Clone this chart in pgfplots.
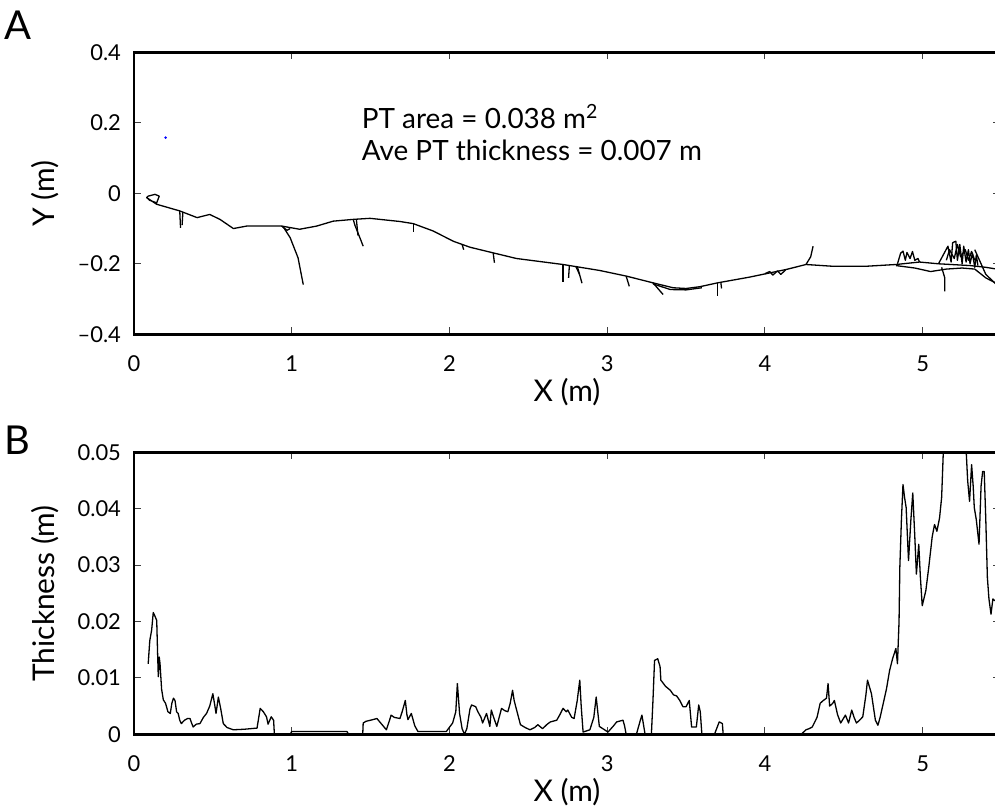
\documentclass[border=0pt]{standalone}
\usepackage{fontspec}
\setmainfont{Lato}
\usepackage{pgfplots}
\pgfplotsset{compat=1.18}

\pgfplotsset{
  panel/.style={
    scale only axis, width=433bp, height=141bp,
    xmin=0, xmax=5.49,
    xtick={0,1,2,3,4,5},
    axis line style={line width=1.3bp},
    major tick length=3.5bp,
    tick style={line width=0.5bp, black!75},
    tick label style={font=\fontsize{11}{12}\selectfont},
    xticklabel style={yshift=-7bp},
    yticklabel style={xshift=-3bp},
    scaled y ticks=false,
    /pgf/number format/assume math mode=true,
    xlabel={X (m)},
    every axis x label/.style={at={(axis description cs:0.5,0)}, anchor=center,
      yshift=-29bp, font=\fontsize{15}{17}\selectfont},
    every axis y label/.style={at={(axis description cs:0,0.5)}, xshift=-44.5bp,
      rotate=90, anchor=center, font=\fontsize{15}{17}\selectfont},
  },
  trace/.style={black, line width=0.65bp, line join=round, forget plot},
}

\begin{document}
\begin{tikzpicture}
\path[use as bounding box] (-67bp,167.15bp) rectangle (430.5bp,-237.35bp);

% A: surveyed surface profile
\begin{axis}[panel, name=top, at={(0,0)}, anchor=south west,
  ymin=-0.4, ymax=0.4, ytick={-0.4,-0.2,0,0.2,0.4},
  yticklabels={--0.4,--0.2,0,0.2,0.4},
  ylabel={Y (m)}]
\addplot[trace] coordinates {
 (0.08,-0.012)(0.09,-0.008)(0.133,-0.003)(0.16,-0.008)(0.144,-0.027)(0.10,-0.02)(0.08,-0.012)
 (0.143,-0.031)(0.29,-0.05)(0.40,-0.069)(0.48,-0.06)(0.545,-0.074)(0.63,-0.10)(0.714,-0.093)
 (0.936,-0.093)(1.05,-0.102)(1.158,-0.093)(1.263,-0.079)(1.39,-0.074)(1.496,-0.071)(1.686,-0.080)
 (1.77,-0.086)(1.897,-0.107)(2.024,-0.136)(2.13,-0.153)(2.277,-0.169)(2.425,-0.185)(2.72,-0.202)
 (2.953,-0.219)(3.122,-0.235)(3.29,-0.254)(3.418,-0.268)(3.50,-0.270)(3.587,-0.265)(3.70,-0.254)
 (3.90,-0.238)(4.136,-0.216)(4.26,-0.202)(4.43,-0.207)(4.64,-0.207)(4.83,-0.202)(4.98,-0.195)
 (5.10,-0.200)(5.30,-0.205)(5.40,-0.210)(5.47,-0.215)};
\addplot[trace] coordinates {(3.29,-0.257)(3.40,-0.273)(3.50,-0.274)(3.60,-0.268)};
\addplot[trace] coordinates {(4.83,-0.205)(4.95,-0.212)(5.05,-0.222)(5.15,-0.215)(5.25,-0.212)(5.33,-0.215)(5.40,-0.240)(5.47,-0.256)};
% spikes
\addplot[trace] coordinates {(0.29,-0.05)(0.295,-0.098)};
\addplot[trace] coordinates {(0.31,-0.053)(0.305,-0.09)};
\addplot[trace] coordinates {(0.936,-0.093)(0.97,-0.105)(0.99,-0.10)};
\addplot[trace] coordinates {(0.946,-0.095)(0.99,-0.126)(1.04,-0.183)(1.073,-0.259)};
\addplot[trace] coordinates {(1.39,-0.074)(1.40,-0.09)(1.453,-0.15)};
\addplot[trace] coordinates {(1.41,-0.075)(1.42,-0.12)};
\addplot[trace] coordinates {(1.77,-0.086)(1.77,-0.11)};
\addplot[trace] coordinates {(2.08,-0.145)(2.09,-0.16)};
\addplot[trace] coordinates {(2.277,-0.169)(2.285,-0.197)};
\addplot[trace] coordinates {(2.72,-0.202)(2.72,-0.251)};
\addplot[trace] coordinates {(2.76,-0.205)(2.755,-0.24)};
\addplot[trace] coordinates {(2.81,-0.207)(2.84,-0.255)};
\addplot[trace] coordinates {(2.80,-0.207)(2.825,-0.23)};
\addplot[trace] coordinates {(3.12,-0.235)(3.14,-0.264)};
\addplot[trace] coordinates {(3.29,-0.254)(3.354,-0.287)};
\addplot[trace] coordinates {(3.70,-0.254)(3.70,-0.292)};
\addplot[trace] coordinates {(3.72,-0.252)(3.725,-0.27)};
\addplot[trace] coordinates {(4.00,-0.228)(4.03,-0.222)(4.05,-0.232)(4.08,-0.220)(4.10,-0.230)(4.13,-0.218)};
\addplot[trace] coordinates {(4.26,-0.202)(4.29,-0.18)(4.305,-0.15)};
\addplot[trace] coordinates {(5.12,-0.21)(5.14,-0.24)(5.14,-0.278)};
\addplot[trace] coordinates {(5.33,-0.16)(5.36,-0.19)(5.40,-0.23)(5.47,-0.26)};
% rough patches
\addplot[trace] coordinates {(4.84,-0.200)(4.86,-0.17)(4.875,-0.164)(4.89,-0.19)(4.90,-0.168)(4.92,-0.185)(4.935,-0.165)(4.95,-0.19)(4.97,-0.185)(4.98,-0.195)};
\addplot[trace] coordinates {(5.10,-0.200)(5.13,-0.175)(5.16,-0.150)(5.18,-0.195)(5.19,-0.140)(5.21,-0.136)(5.22,-0.19)(5.235,-0.145)(5.25,-0.20)(5.26,-0.15)(5.275,-0.195)(5.29,-0.16)(5.30,-0.20)(5.315,-0.17)(5.33,-0.21)(5.34,-0.175)(5.35,-0.205)};
\addplot[trace] coordinates {(5.15,-0.19)(5.17,-0.16)(5.20,-0.185)(5.22,-0.145)(5.24,-0.18)(5.27,-0.16)(5.29,-0.19)(5.31,-0.165)(5.33,-0.19)};
\addplot[only marks, mark=*, mark size=0.4bp, blue, forget plot] coordinates {(0.2,0.158)};
\node[anchor=base west, align=left, font=\fontsize{14}{16}\selectfont] at (axis cs:1.40,0.092)
  {PT area = 0.038 m\textsuperscript{2}\\Ave PT thickness = 0.007 m};
\end{axis}

% B: thickness along the profile
\begin{axis}[panel, name=bot, at={(0,-200bp)}, anchor=south west,
  ymin=0, ymax=0.05, ytick={0,0.01,0.02,0.03,0.04,0.05},
  yticklabels={0,0.01,0.02,0.03,0.04,0.05},
  ylabel={Thickness (m)}]
\addplot[trace] coordinates {
 (0.09,0.0125)(0.10,0.0166)(0.112,0.0185)(0.122,0.0216)(0.132,0.021)(0.144,0.0202)(0.15,0.014)
 (0.154,0.0102)(0.16,0.0137)(0.165,0.0125)(0.175,0.008)(0.186,0.0061)(0.20,0.0055)(0.215,0.004)
 (0.23,0.0037)(0.24,0.0055)(0.25,0.0064)(0.26,0.006)(0.27,0.004)(0.28,0.0037)(0.29,0.0025)
 (0.30,0.0019)(0.32,0.0025)(0.34,0.0028)(0.355,0.0028)(0.365,0.002)(0.375,0.0013)(0.395,0.0018)
 (0.418,0.0019)(0.44,0.003)(0.46,0.0037)(0.48,0.005)(0.50,0.0072)(0.51,0.0055)(0.52,0.0037)
 (0.535,0.0066)(0.55,0.0045)(0.566,0.0019)(0.59,0.0012)(0.63,0.0008)(0.70,0.0009)(0.78,0.0011)
 (0.80,0.0046)(0.82,0.004)(0.84,0.0031)(0.85,0.0018)(0.87,0.0031)(0.885,0.0025)(0.89,0.0)
 (0.99,0.0)(1.0,0.0005)(1.35,0.0005)(1.36,0)(1.45,0)(1.453,0.002)(1.47,0.0023)(1.50,0.0025)
 (1.54,0.0028)(1.57,0.0018)(1.60,0.0008)(1.62,0.0025)(1.63,0.0034)(1.65,0.003)(1.686,0.0028)
 (1.70,0.004)(1.72,0.006)(1.73,0.0035)(1.737,0.0026)(1.758,0.0037)(1.78,0.0015)(1.80,0.0005)
 (1.98,0.0005)(2.02,0.002)(2.04,0.004)(2.05,0.009)(2.058,0.006)(2.064,0.0037)(2.08,0.001)
 (2.095,0.0)(2.11,0.001)(2.13,0.0045)(2.14,0.0052)(2.166,0.0049)(2.18,0.004)(2.20,0.003)
 (2.21,0.002)(2.235,0.0037)(2.256,0.0014)(2.265,0.0043)(2.28,0.003)(2.30,0.0014)(2.33,0.0046)
 (2.35,0.0042)(2.37,0.004)(2.385,0.0055)(2.40,0.0078)(2.41,0.006)(2.42,0.0049)(2.45,0.0017)
 (2.48,0.0012)(2.51,0.0008)(2.54,0.0012)(2.56,0.0017)(2.59,0.001)(2.62,0.0018)(2.64,0.0022)
 (2.68,0.0025)(2.70,0.0035)(2.72,0.0046)(2.74,0.004)(2.75,0.0043)(2.775,0.003)(2.79,0.0028)
 (2.81,0.006)(2.826,0.0096)(2.835,0.005)(2.847,0.0004)(2.89,0.0008)(2.915,0.003)(2.93,0.0066)
 (2.94,0.004)(2.95,0.0014)(3.005,0.0004)(3.04,0.0015)(3.06,0.0022)(3.10,0.0025)(3.11,0.0015)
 (3.12,0.0)(3.185,0.0)(3.21,0.0025)(3.22,0.0034)(3.24,0.0)(3.28,0.0)(3.29,0.006)(3.30,0.0131)
 (3.32,0.0134)(3.335,0.012)(3.34,0.0096)(3.37,0.0085)(3.40,0.0078)(3.42,0.007)(3.44,0.0068)
 (3.46,0.006)(3.48,0.0049)(3.50,0.0049)(3.52,0.006)(3.535,0.0013)(3.565,0.0013)(3.58,0.0052)
 (3.59,0.004)(3.60,0.0)(3.68,0.0)(3.71,0.0022)(3.73,0.0019)(3.735,0.0)(4.23,0.0)(4.26,0.0008)
 (4.28,0.001)(4.30,0.0013)(4.33,0.003)(4.35,0.0055)(4.37,0.006)(4.39,0.0064)(4.40,0.009)
 (4.41,0.005)(4.43,0.0055)(4.44,0.006)(4.46,0.0035)(4.48,0.002)(4.51,0.0034)(4.53,0.002)
 (4.55,0.0043)(4.565,0.003)(4.58,0.002)(4.60,0.0025)(4.62,0.0031)(4.64,0.007)(4.65,0.0096)
 (4.675,0.0072)(4.70,0.0025)(4.716,0.0016)(4.73,0.003)(4.75,0.0055)(4.77,0.008)(4.79,0.0113)
 (4.81,0.0135)(4.83,0.0152)(4.84,0.0125)(4.85,0.02)(4.855,0.0296)(4.865,0.038)(4.875,0.0443)
 (4.885,0.042)(4.895,0.0402)(4.91,0.0308)(4.925,0.038)(4.937,0.0428)(4.95,0.035)(4.96,0.0284)
 (4.975,0.0337)(4.985,0.028)(4.997,0.0228)(5.02,0.0255)(5.04,0.03)(5.06,0.035)(5.075,0.0372)
 (5.09,0.036)(5.107,0.0384)(5.12,0.042)(5.13,0.0496)(5.15,0.056)(5.20,0.06)(5.25,0.056)
 (5.276,0.05)(5.285,0.045)(5.297,0.0413)(5.31,0.0478)(5.32,0.044)(5.327,0.0402)(5.34,0.038)
 (5.357,0.0337)(5.37,0.044)(5.38,0.0466)(5.39,0.0466)(5.40,0.038)(5.41,0.0278)(5.42,0.024)
 (5.433,0.0213)(5.445,0.024)(5.456,0.0237)(5.47,0.024)};
\end{axis}

\node[font=\fontsize{20}{22}\selectfont] at (-58bp,154.6bp) {A};
\node[font=\fontsize{20}{22}\selectfont] at (-58.5bp,-52.9bp) {B};
\end{tikzpicture}
\end{document}
